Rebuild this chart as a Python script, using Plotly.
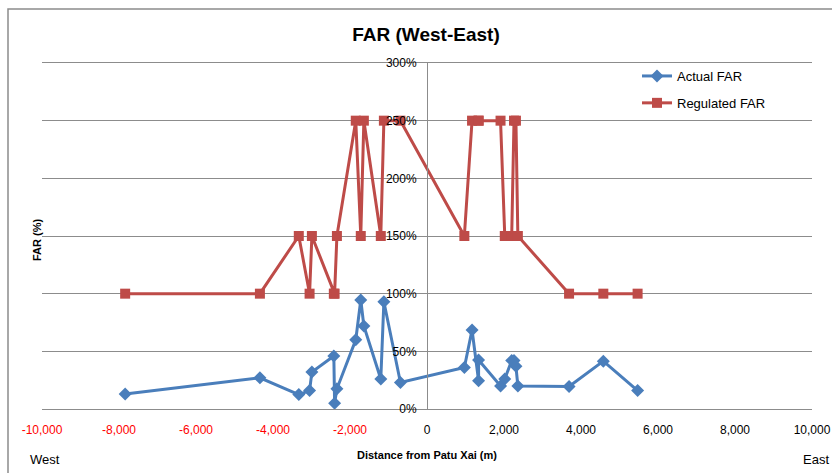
import plotly.graph_objects as go

# Data
distance_m = [-7840, -4340, -3330, -3050, -2990, -2420, -2400, -2340, -1850, -1720,
              -1640, -1200, -1120, -690, 970, 1170, 1340, 1340, 1910, 2020,
              2200, 2260, 2310, 2360, 3690, 4580, 5470]
actual_far = [13, 27, 12.5, 16, 32, 46, 5, 17.5, 60, 94.5,
              72, 26, 93, 23, 36, 68.5, 24.5, 42.5, 20, 26,
              42, 42, 37, 20, 19.5, 41.5, 16]
regulated_far = [100, 100, 150, 100, 150, 100, 100, 150, 250, 150,
                 250, 150, 250, 250, 150, 250, 250, 250, 250, 150,
                 150, 250, 250, 150, 100, 100, 100]

x_tick_vals = [-10000, -8000, -6000, -4000, -2000, 0, 2000, 4000, 6000, 8000, 10000]
y_tick_vals = [0, 50, 100, 150, 200, 250, 300]

BLUE = "#4A7EBB"
RED = "#BE4B48"
GRID = "#8C8C8C"
FONT = "Liberation Sans"

L, R, T, B = 42, 20, 63, 64
PW, PH = 832 - L - R, 473 - T - B

def px_x(x):
    return (x - L) / PW

def px_y(y):
    return (473 - B - y) / PH

def fmt_tick(v):
    s = f"{v:,}"
    if v < 0:
        return f"<span style='color:#FF0000'>{s}</span>"
    return s

fig = go.Figure()
fig.add_trace(go.Scatter(
    x=distance_m, y=actual_far, name="Actual FAR", mode="lines+markers",
    line=dict(color=BLUE, width=3),
    marker=dict(symbol="diamond", size=10, color=BLUE),
    legendgroup="a",
))
fig.add_trace(go.Scatter(
    x=distance_m, y=regulated_far, name="Regulated FAR", mode="lines+markers",
    line=dict(color=RED, width=3),
    marker=dict(symbol="square", size=10, color=RED),
    legendgroup="b",
))

fig.update_layout(
    width=832, height=473,
    margin=dict(l=L, r=R, t=T, b=B, autoexpand=False),
    paper_bgcolor="white", plot_bgcolor="white",
    font=dict(family=FONT, size=12, color="black"),
    title=dict(text="<b>FAR (West-East)</b>", xref="paper", x=px_x(426), xanchor="center",
               yref="container", y=1 - 34 / 473, yanchor="middle",
               font=dict(family=FONT, size=19, color="black")),
    legend=dict(x=px_x(637), y=px_y(61), xanchor="left", yanchor="top",
                font=dict(family=FONT, size=13, color="black"),
                bgcolor="rgba(0,0,0,0)", itemwidth=30,
                tracegroupgap=7, traceorder="grouped"),
    showlegend=True,
)

fig.update_xaxes(
    range=[-10000, 10000], tickvals=x_tick_vals,
    ticktext=[fmt_tick(v) for v in x_tick_vals],
    showgrid=False, zeroline=False, showline=True, mirror=True,
    linecolor=GRID, linewidth=1, automargin=False,
    ticks="", ticklabelstandoff=10,
    tickfont=dict(family=FONT, size=12),
    title=dict(text="<b>Distance from Patu Xai (m)</b>", standoff=14,
               font=dict(family=FONT, size=11)),
)
fig.update_yaxes(
    range=[0, 300], tickvals=y_tick_vals,
    ticktext=[f"{v}%" for v in y_tick_vals],
    showgrid=True, gridcolor=GRID, gridwidth=1, zeroline=False,
    showline=True, linecolor=GRID, linewidth=1, automargin=False,
    anchor="free", position=0.5, ticks="", ticklabelstandoff=8,
    tickfont=dict(family=FONT, size=12),
)

# Excel-style chart border
fig.add_shape(type="rect", xref="paper", yref="paper",
              x0=px_x(8), x1=px_x(845), y0=px_y(490), y1=px_y(9),
              line=dict(color=GRID, width=1.5), fillcolor="rgba(0,0,0,0)", layer="below")

fig.add_annotation(text="<b>FAR (%)</b>", xref="paper", yref="paper",
                   x=px_x(37), y=px_y(240), textangle=-90,
                   xanchor="center", yanchor="middle",
                   showarrow=False, font=dict(family=FONT, size=11, color="black"))
fig.add_annotation(text="West", xref="paper", yref="paper",
                   x=px_x(45), y=px_y(459), xanchor="center", yanchor="middle",
                   showarrow=False, font=dict(family=FONT, size=13, color="black"))
fig.add_annotation(text="East", xref="paper", yref="paper",
                   x=px_x(816), y=px_y(459), xanchor="center", yanchor="middle",
                   showarrow=False, font=dict(family=FONT, size=13, color="black"))

fig.write_html("out.html", config={"displayModeBar": False},
               post_script="document.body.style.margin='0';")
